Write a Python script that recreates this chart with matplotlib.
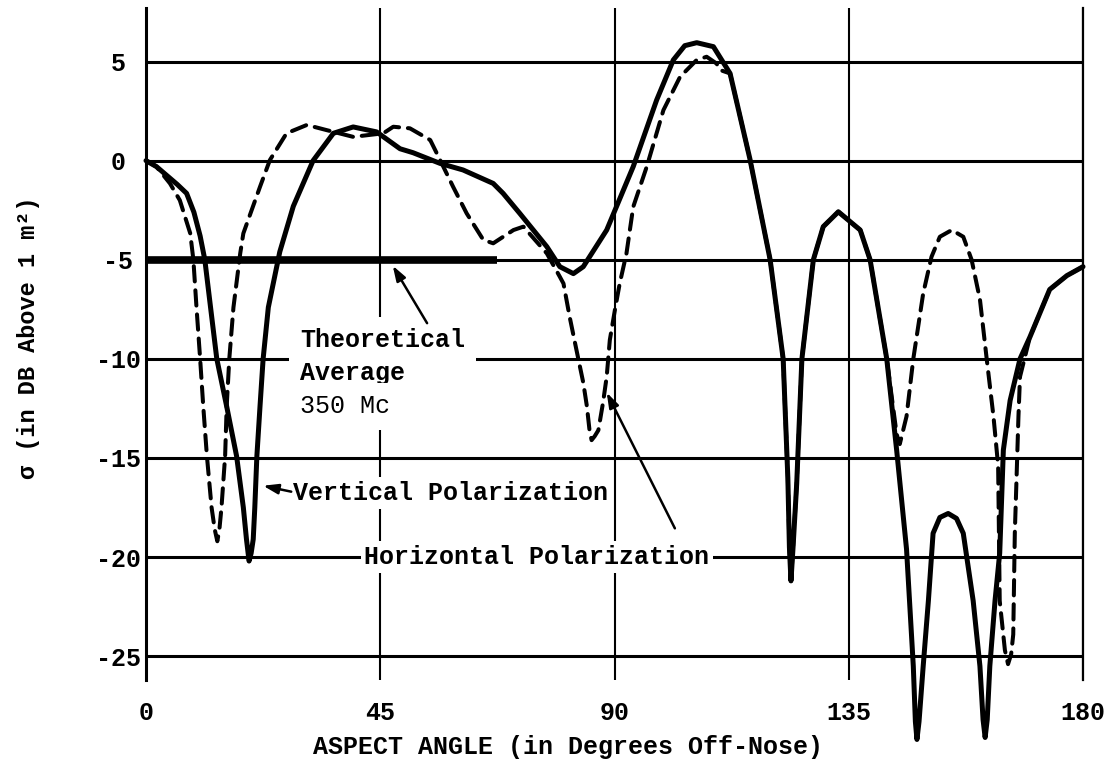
import matplotlib.pyplot as plt

# values: aspect angle (deg) and sigma (dB above 1 m^2)
vert_angle = [0, 2, 4, 6, 7.8, 9.2, 10.4, 11.3, 12.4, 13.6, 15.5, 17.4, 18.7, 19.3,
              19.8, 20.2, 20.6, 20.9, 21.3, 21.9, 22.5, 23.5, 25.7, 28.3, 32.1, 36.0,
              39.8, 44.3, 48.8, 51.3, 56.5, 60.9, 66.7, 68.6, 71.8, 77.0, 79.5, 82.1,
              84.0, 88.5, 93.6, 98.1, 101.3, 103.5, 105.8, 109.0, 112.2, 116.0, 119.9,
              122.4, 123.3, 123.6, 123.9, 124.3, 125.0, 126.0, 128.2, 130.1, 133.0,
              137.2, 139.1, 142.3, 144.2, 146.1, 147.4, 147.8, 148.1, 148.5, 149.3,
              150.3, 151.2, 152.5, 154.1, 155.7, 157.0, 158.9, 160.2, 160.8, 161.2,
              161.6, 162.1, 163.1, 164.0, 164.7, 166.0, 167.9, 169.8, 173.6, 176.9, 180.0]
vert_db = [0, -0.3, -0.75, -1.2, -1.65, -2.6, -3.8, -5.0, -7.4, -10.0, -12.4, -14.9, -17.5, -19.1,
           -20.2, -19.8, -19.1, -17.5, -14.9, -12.4, -10.0, -7.4, -4.6, -2.3, 0.0, 1.38,
           1.7, 1.45, 0.6, 0.4, -0.14, -0.47, -1.15, -1.65, -2.66, -4.34, -5.35, -5.7,
           -5.35, -3.5, -0.3, 3.06, 5.08, 5.8, 5.95, 5.75, 4.4, 0.1, -5.0,
           -10.0, -16.0, -19.5, -21.2, -19.5, -16.3, -10.0, -5.0, -3.33, -2.58,
           -3.5, -5.0, -10.0, -14.6, -19.6, -25.5, -28.3, -29.2, -28.3, -25.5,
           -22.2, -18.8, -18.0, -17.8, -18.05, -18.8, -22.2, -25.5, -28.2, -29.1,
           -28.2, -25.5, -22.2, -19.8, -14.6, -12.1, -10.0, -8.9, -6.5, -5.8, -5.35]

horiz_angle = [0, 2, 4.6, 6.5, 8.5, 9.1, 9.7, 10.4, 11.0, 11.7, 12.6, 13.2, 13.7, 14.1,
               14.5, 15.2, 15.5, 16.0, 16.8, 18.1, 18.7, 21.9, 23.8, 27.0, 30.9, 34.7,
               39.8, 45.6, 47.5, 50.7, 54.6, 56.5, 59.0, 61.6, 64.8, 66.7, 70.6, 72.5,
               77.0, 79.5, 80.2, 81.4, 82.7, 84.0, 84.7, 85.2, 85.6, 86.2, 86.9, 87.8,
               88.5, 89.1, 90.1, 91.0, 92.3, 93.6, 96.2, 99.4, 102.6, 105.8, 107.7,
               109.6, 110.3, 112.2, 116.0, 119.9, 122.4, 123.3, 123.6, 123.9, 124.3,
               125.0, 126.0, 128.2, 130.1, 133.0, 137.2, 139.1, 142.3, 144.2, 144.8,
               146.1, 147.4, 149.3, 150.9, 152.5, 154.8, 157.0, 158.6, 160.2, 161.5,
               162.8, 163.7, 164.0, 165.0, 165.6, 166.2, 166.6, 166.9, 167.2, 167.6,
               167.9, 169.8, 173.6, 176.9, 180.0]
horiz_db = [0, -0.3, -1.15, -2.0, -3.67, -5.0, -7.4, -10.0, -12.4, -14.9, -17.5, -18.6, -19.2, -18.6,
            -17.5, -14.9, -12.4, -10.0, -7.4, -4.68, -3.67, -1.32, 0.03, 1.38, 1.8, 1.54,
            1.2, 1.38, 1.71, 1.63, 1.04, 0.03, -1.32, -2.66, -4.0, -4.17, -3.5, -3.33,
            -4.68, -5.86, -6.2, -7.9, -9.56, -11.2, -12.4, -13.6, -14.1, -13.9, -13.6, -12.2,
            -10.9, -9.05, -7.5, -6.2, -4.68, -2.33, -0.3, 2.55, 4.23, 5.08, 5.24,
            4.9, 4.57, 4.4, 0.1, -5.0, -10.0, -16.0, -19.5, -21.2, -19.5,
            -16.3, -10.0, -5.0, -3.33, -2.58, -3.5, -5.0, -10.0, -13.8, -14.3,
            -12.9, -10.0, -6.7, -4.85, -3.84, -3.5, -3.84, -5.0, -7.0, -10.0,
            -12.9, -15.4, -22.2, -24.7, -25.4, -24.9, -23.9, -18.8, -16.3, -12.9,
            -10.9, -8.9, -6.5, -5.8, -5.35]

avg_angle = [0, 67.5]
avg_db = [-5, -5]

x_ticks = [0, 45, 90, 135, 180]
y_ticks = [5, 0, -5, -10, -15, -20, -25]

plt.rcParams['font.family'] = ['Liberation Mono', 'DejaVu Sans Mono']
plt.rcParams['font.weight'] = 'bold'

fig = plt.figure(figsize=(11.2, 7.71), dpi=100)
ax = fig.add_axes([146 / 1120, 91 / 771, 937 / 1120, 672 / 771])
ax.set_xlim(0, 180)
ax.set_ylim(-26.2, 7.7)

# grid / frame
for s in ["top", "bottom"]:
    ax.spines[s].set_visible(False)
ax.spines["left"].set_linewidth(2.2)
ax.spines["right"].set_linewidth(1.6)
ax.set_xticks(x_ticks)
ax.set_xticklabels([str(t) for t in x_ticks])
ax.set_yticks(y_ticks)
ax.set_yticklabels([str(t) for t in y_ticks])
ax.grid(axis="y", color="black", linewidth=2.2)
ax.grid(axis="x", color="black", linewidth=1.5)
ax.tick_params(axis="x", length=0, pad=15, labelsize=18)
ax.tick_params(axis="y", length=0, pad=20, labelsize=18)
for lab in ax.get_yticklabels():
    lab.set_horizontalalignment("center")

# curves
ax.plot(vert_angle, vert_db, color="black", lw=3.6, solid_joinstyle="round",
        solid_capstyle="round", clip_on=False, zorder=5)
ax.plot(horiz_angle, horiz_db, color="black", lw=2.9, dashes=[3.8, 2.2],
        dash_capstyle="round", clip_on=False, zorder=4)
ax.plot(avg_angle, avg_db, color="black", lw=5.5, solid_capstyle="butt", zorder=4)

# annotations
box = dict(facecolor="white", edgecolor="none", boxstyle="square,pad=0.45")
ax.text(29.6, -9.06, "Theoretical", fontsize=18, ha="left", va="center", bbox=box, zorder=3)
ax.text(29.6, -10.7, "Average", fontsize=18, ha="left", va="center", bbox=box, zorder=3)
ax.text(29.6, -12.4, "350 Mc", fontsize=18, fontweight="normal", ha="left", va="center",
        bbox=box, zorder=3)
ax.annotate("", xy=(47.4, -5.3), xytext=(54.0, -8.2),
            arrowprops=dict(arrowstyle="-|>,head_length=0.9,head_width=0.3",
                            color="black", lw=1.8, shrinkA=0, shrinkB=0), zorder=6)

small_box = dict(facecolor="white", edgecolor="none", boxstyle="square,pad=0.15")
ax.text(28.2, -16.77, "Vertical Polarization", fontsize=18, ha="left", va="center",
        bbox=small_box, zorder=3)
ax.annotate("", xy=(22.5, -16.4), xytext=(27.9, -16.7),
            arrowprops=dict(arrowstyle="-|>,head_length=0.9,head_width=0.3",
                            color="black", lw=1.8, shrinkA=0, shrinkB=0), zorder=6)

ax.text(75.1, -20.0, "Horizontal Polarization", fontsize=18, ha="center", va="center",
        bbox=small_box, zorder=3)
ax.annotate("", xy=(88.5, -11.7), xytext=(101.6, -18.55),
            arrowprops=dict(arrowstyle="-|>,head_length=0.9,head_width=0.3",
                            color="black", lw=1.8, shrinkA=0, shrinkB=0), zorder=6)

ax.set_xlabel("ASPECT ANGLE (in Degrees Off-Nose)", fontsize=18, fontweight="bold")
ax.xaxis.set_label_coords(0.45, -0.082)
ax.set_ylabel("σ (in DB Above 1 m²)", fontsize=17, fontweight="bold")
ax.yaxis.set_label_coords(-0.113, 0.51)

fig.savefig("out.png", dpi=100)
